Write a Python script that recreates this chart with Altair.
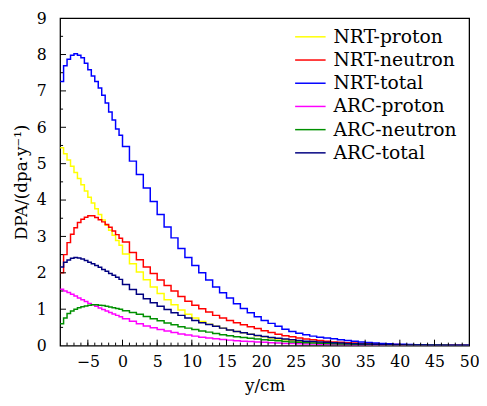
import altair as alt
import pandas as pd

series_names = ["NRT-proton", "NRT-neutron", "NRT-total", "ARC-proton", "ARC-neutron", "ARC-total"]
series_colors = ["#ffff00", "#ff0000", "#0000ff", "#ff00ff", "#009000", "#000080"]

# left edges of the histogram bins (0.5 cm below 0, 1 cm above)
bin_edges = [-9, -8.5, -8, -7.5, -7, -6.5, -6, -5.5, -5, -4.5, -4, -3.5, -3, -2.5, -2, -1.5, -1, -0.5,
             0, 1, 2, 3, 4, 5, 6, 7, 8, 9, 10, 11, 12, 13, 14, 15, 16, 17, 18, 19, 20, 21, 22, 23, 24,
             25, 26, 27, 28, 29, 30, 31, 32, 33, 34, 35, 36, 37, 38, 39, 40, 41, 42, 43, 44, 45, 46, 47,
             48, 49]
x_end = 50

nrt_proton = [5.44, 5.27, 5.10, 4.93, 4.76, 4.59, 4.42, 4.25, 4.08, 3.92, 3.76, 3.60, 3.45, 3.31, 3.17, 3.03, 2.89, 2.76,
              2.52, 2.25, 2.02, 1.81, 1.61, 1.43, 1.26, 1.12, 0.98, 0.86, 0.76, 0.66, 0.59, 0.53, 0.48, 0.43, 0.39,
              0.35, 0.31, 0.27, 0.24, 0.21, 0.18, 0.16, 0.14, 0.12, 0.10, 0.09, 0.08, 0.07, 0.06, 0.05, 0.045, 0.04,
              0.035, 0.03, 0.025, 0.02, 0.018, 0.015, 0.012, 0.01, 0.009, 0.008, 0.007, 0.006, 0.005, 0.004, 0.004, 0.003]
nrt_neutron = [2.00, 2.50, 2.83, 3.06, 3.24, 3.38, 3.47, 3.53, 3.57, 3.57, 3.52, 3.46, 3.40, 3.33, 3.25, 3.15, 3.05, 2.95,
               2.85, 2.56, 2.36, 2.16, 1.98, 1.80, 1.65, 1.50, 1.35, 1.22, 1.11, 1.01, 0.92, 0.83, 0.76, 0.69, 0.63,
               0.57, 0.52, 0.47, 0.41, 0.36, 0.31, 0.27, 0.24, 0.21, 0.18, 0.16, 0.14, 0.12, 0.10, 0.09, 0.08, 0.07,
               0.06, 0.05, 0.045, 0.04, 0.035, 0.03, 0.025, 0.02, 0.018, 0.015, 0.012, 0.01, 0.008, 0.007, 0.006, 0.005]
nrt_total = [7.26, 7.69, 7.87, 7.98, 8.02, 7.98, 7.91, 7.76, 7.58, 7.41, 7.26, 7.08, 6.88, 6.67, 6.42, 6.20, 5.95, 5.78,
             5.47, 5.07, 4.70, 4.33, 3.96, 3.60, 3.26, 2.96, 2.67, 2.42, 2.20, 2.00, 1.80, 1.61, 1.45, 1.31, 1.15,
             1.02, 0.90, 0.79, 0.69, 0.61, 0.53, 0.45, 0.39, 0.34, 0.30, 0.26, 0.23, 0.21, 0.19, 0.16, 0.14, 0.12,
             0.10, 0.085, 0.07, 0.06, 0.05, 0.04, 0.035, 0.03, 0.025, 0.02, 0.018, 0.015, 0.012, 0.01, 0.008, 0.007]
arc_proton = [1.55, 1.50, 1.46, 1.41, 1.36, 1.31, 1.26, 1.21, 1.16, 1.12, 1.08, 1.03, 0.99, 0.95, 0.91, 0.87, 0.83, 0.79,
              0.74, 0.67, 0.60, 0.54, 0.49, 0.44, 0.40, 0.36, 0.32, 0.29, 0.26, 0.23, 0.21, 0.19, 0.17, 0.15, 0.13,
              0.12, 0.11, 0.10, 0.09, 0.08, 0.07, 0.06, 0.055, 0.05, 0.045, 0.04, 0.035, 0.03, 0.027, 0.024, 0.021,
              0.018, 0.016, 0.014, 0.012, 0.01, 0.009, 0.008, 0.007, 0.006, 0.005, 0.005, 0.004, 0.004, 0.003, 0.003,
              0.002, 0.002]
arc_neutron = [0.60, 0.76, 0.88, 0.95, 1.00, 1.04, 1.07, 1.09, 1.11, 1.12, 1.12, 1.11, 1.10, 1.08, 1.06, 1.04, 1.02, 1.00,
               0.96, 0.91, 0.86, 0.80, 0.74, 0.68, 0.62, 0.57, 0.52, 0.48, 0.44, 0.40, 0.37, 0.33, 0.30, 0.27, 0.24,
               0.22, 0.20, 0.18, 0.16, 0.145, 0.13, 0.115, 0.10, 0.09, 0.08, 0.07, 0.065, 0.06, 0.05, 0.045, 0.04,
               0.035, 0.03, 0.027, 0.024, 0.021, 0.018, 0.016, 0.014, 0.012, 0.01, 0.009, 0.008, 0.007, 0.006, 0.005,
               0.004, 0.004]
arc_total = [2.16, 2.29, 2.35, 2.40, 2.42, 2.41, 2.38, 2.34, 2.29, 2.25, 2.20, 2.15, 2.09, 2.04, 1.98, 1.93, 1.88, 1.82,
             1.68, 1.54, 1.41, 1.29, 1.18, 1.08, 0.99, 0.90, 0.83, 0.76, 0.69, 0.63, 0.58, 0.53, 0.48, 0.43, 0.39,
             0.35, 0.31, 0.28, 0.25, 0.22, 0.20, 0.18, 0.16, 0.14, 0.12, 0.11, 0.10, 0.09, 0.08, 0.07, 0.06, 0.05,
             0.045, 0.04, 0.035, 0.03, 0.027, 0.024, 0.021, 0.018, 0.016, 0.014, 0.012, 0.01, 0.009, 0.008, 0.007, 0.006]

x_label_values = [-5, 0, 5, 10, 15, 20, 25, 30, 35, 40, 45, 50]
x_minor_ticks = [v for v in range(-8, 50)]
x_major_ticks = [-5, 0, 5, 10, 15, 20, 25, 30, 35, 40, 45]
y_label_values = [0, 1, 2, 3, 4, 5, 6, 7, 8, 9]
y_minor_ticks = [0.5, 1.5, 2.5, 3.5, 4.5, 5.5, 6.5, 7.5, 8.5]
y_major_ticks = [1, 2, 3, 4, 5, 6, 7, 8]

all_series = [nrt_proton, nrt_neutron, nrt_total, arc_proton, arc_neutron, arc_total]
rows = []
for name, vals in zip(series_names, all_series):
    for x, v in zip(bin_edges, vals):
        rows.append({"series": name, "x": x, "v": v})
    rows.append({"series": name, "x": x_end, "v": vals[-1]})
df = pd.DataFrame(rows)

FONT = "DejaVu Serif"
W, H = 416, 333

xscale = alt.Scale(domain=[-9, 50], nice=False, zero=False)
yscale = alt.Scale(domain=[0, 9], nice=False)
cscale = alt.Scale(domain=series_names, range=series_colors)

x_axis = alt.Axis(values=x_label_values, title="y/cm", labelPadding=8, titlePadding=9,
                  labelOverlap=False, labelFlush=False, labelBound=False)
y_axis = alt.Axis(values=y_label_values, title="DPA/(dpa·y⁻¹)", labelPadding=14, titlePadding=6,
                  labelOverlap=False, labelFlush=False, labelBound=False)

lines = alt.Chart(df).mark_line(interpolate="step-after", strokeWidth=1.5, clip=True).encode(
    x=alt.X("x:Q", scale=xscale, axis=x_axis),
    y=alt.Y("v:Q", scale=yscale, axis=y_axis),
    color=alt.Color("series:N", scale=cscale, legend=None),
    order=alt.Order("x:Q"),
)

def xticks(vals, length):
    return alt.Chart(pd.DataFrame({"t": vals})).mark_rule(color="black", strokeWidth=1).encode(
        x=alt.X("t:Q", scale=xscale, axis=x_axis), y=alt.value(H), y2=alt.value(H - length))

def yticks(vals, length):
    return alt.Chart(pd.DataFrame({"t": vals})).mark_rule(color="black", strokeWidth=1).encode(
        y=alt.Y("t:Q", scale=yscale, axis=y_axis), x=alt.value(0), x2=alt.value(length))

main = alt.layer(lines, xticks(x_minor_ticks, 3), xticks(x_major_ticks, 6),
                 yticks(y_minor_ticks, 3), yticks(y_major_ticks, 6))

leg_df = pd.DataFrame({"series": series_names})
leg_y = alt.Scale(type="point", domain=series_names, range=[19, 137], padding=0)
leg_rules = alt.Chart(leg_df).mark_rule(strokeWidth=1.5).encode(
    x=alt.value(239), x2=alt.value(270),
    y=alt.Y("series:N", scale=leg_y, axis=None),
    color=alt.Color("series:N", scale=cscale, legend=None),
)
leg_text = alt.Chart(leg_df).mark_text(align="left", baseline="middle", font=FONT, fontSize=19,
                                       color="black").encode(
    x=alt.value(278),
    y=alt.Y("series:N", scale=leg_y, axis=None),
    text="series:N",
)
legend = alt.layer(leg_rules, leg_text)

chart = alt.layer(main, legend).resolve_scale(y="independent").properties(
    width=W, height=H,
    padding={"left": 53, "top": 7, "right": 10, "bottom": 50},
    autosize=alt.AutoSizeParams(type="none"),
).configure_view(stroke="black", strokeWidth=1.3).configure_axis(
    labelFont=FONT, labelFontSize=16, labelColor="black", labelOverlap=False,
    titleFont=FONT, titleFontSize=17, titleColor="black", titleFontWeight="normal",
    grid=False, ticks=False, tickSize=0, domain=False,
)

chart.save("out.html", embed_options={"renderer": "svg", "actions": False})
